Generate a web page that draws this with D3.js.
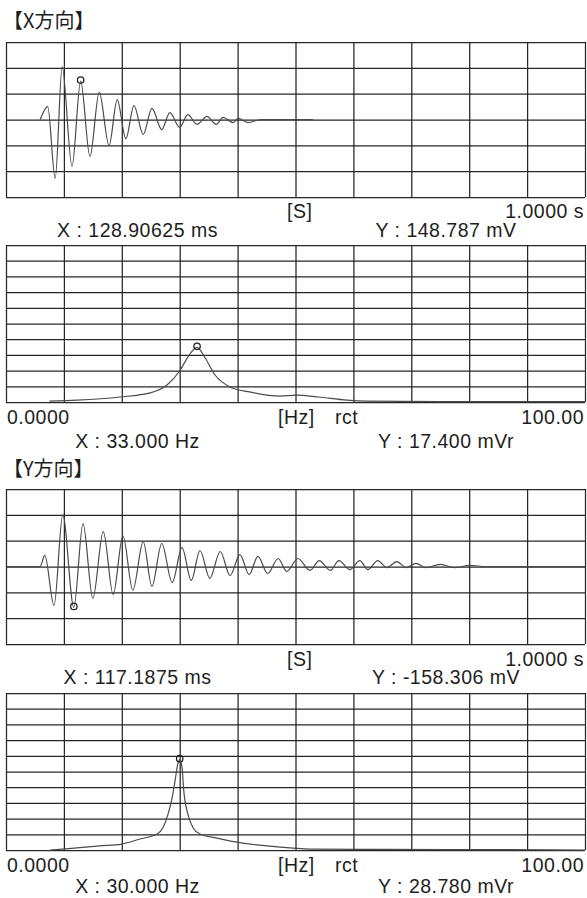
<!DOCTYPE html>
<html>
<head>
<meta charset="utf-8">
<script src="https://d3js.org/d3.v7.min.js"></script>
<style>
body { margin: 0; background: #fff; overflow: hidden; }
text { font-family: "Liberation Sans", Arial, sans-serif; fill: #1e1e1e; }
</style>
</head>
<body>
<svg id="drawing_region"></svg>
<script>
// X方向: time waveform, turning points (ms, mV)
const xWaveTime = [59, 72, 85, 97, 114, 128.9, 145, 161, 178, 192, 207, 221, 237, 252, 269, 283, 300, 314,
                   330, 347, 363, 375, 392, 401, 418, 440, 530];
const xWaveMv   = [0, 50, -228, 205, -182, 148.8, -143, 105, -101, 77, -74, 54, -58, 43, -39, 27, -31, 19,
                   -19, 12, -19, 8, -12, 4, -12, 0, 0];

// X方向: spectrum (Hz, mVr)
const xSpecHz  = [7.5, 12.3, 19.7, 24.9, 27.8, 30.1, 31.4, 33.0, 34.4, 36.1, 38.7, 42.1, 47.3, 50.3, 54, 58.9, 62.3, 75, 100];
const xSpecMvr = [0.3, 0.6, 1.6, 2.9, 5.4, 10.2, 14.3, 17.4, 14.0, 8.6, 4.8, 3.2, 1.9, 2.2, 1.6, 0.6, 0.3, 0.1, 0.1];

// Y方向: time waveform (ms, mV)
const yWaveTime = [2, 59, 67, 83, 98, 117.19, 133, 150, 168, 185, 202, 219, 237, 252, 269, 287, 304, 320,
                   335, 352, 370, 387, 404, 420, 435, 452, 470, 485, 504, 525, 541, 560, 575, 594, 611, 625,
                   642, 658, 675, 691, 708, 725, 750, 775, 801, 830, 1000];
const yWaveMv   = [0, 0, 43, -151, 201, -158.3, 166, -123, 135, -108, 119, -92, 96, -77, 89, -62, 73, -54,
                   62, -46, 58, -35, 46, -31, 39, -27, 31, -19, 31, -15, 23, -15, 23, -12, 23, -12,
                   23, -4, 19, -4, 12, -4, 8, -4, 4, 0, 0];

// Y方向: spectrum (Hz, mVr)
const ySpecHz  = [7.6, 9.8, 16.2, 20.0, 23.1, 26.1, 27.1, 28.0, 28.7, 29.2, 29.7, 30.0, 30.4, 30.7, 31.4, 32.3,
                  33.5, 36.4, 40.9, 45.1, 49.6, 52.5, 64.6, 85.3, 100];
const ySpecMvr = [0, 0.3, 1.3, 1.9, 3.5, 5.1, 7.1, 11.5, 16.7, 22.1, 27.6, 28.78, 26.3, 18.9, 11.5, 7.1,
                  5.1, 3.8, 2.2, 1.3, 0.6, 0.3, 0.2, 0.1, 0];

// cursor positions [x, y]
const xWaveCursor = [128.90625, 148.787];
const xSpecCursor = [33.0, 17.4];
const yWaveCursor = [117.1875, -158.306];
const ySpecCursor = [30.0, 28.78];

// grid divisions
const waveGridT   = [0, 100, 200, 300, 400, 500, 600, 700, 800, 900, 1000];
const waveGridMv  = [-300, -200, -100, 0, 100, 200, 300];
const specGridHz  = [0, 10, 20, 30, 40, 50, 60, 70, 80, 90, 100];
const specGridMvr = [0, 5, 10, 15, 20, 25, 30, 35, 40, 45, 50];

// texts
const titles     = ["【X方向】", "【Y方向】"];
const waveLabels = ["", "[S]", "", "1.0000 s"];
const specLabels = ["0.0000", "[Hz]", "rct", "100.00"];
const cursorText = [
    ["X : 128.90625 ms", "Y : 148.787 mV"],
    ["X : 33.000 Hz", "Y : 17.400 mVr"],
    ["X : 117.1875 ms", "Y : -158.306 mV"],
    ["X : 30.000 Hz", "Y : 28.780 mVr"]
];

const svg = d3.select('#drawing_region')
    .attr('width', 587)
    .attr('height', 898);

class Panel {
    constructor( config, xs, ys, cursor ) {
        this.config = config;
        this.data = xs.map( (x, i) => ({ x: x, y: ys[i] }) );
        this.cursor = cursor;
        this.init();
    }
    init() {
        let self = this;
        let c = self.config;
        self.chart = svg.append('g')
            .attr('transform', `translate(${c.left}, ${c.top})`);
        self.xscale = d3.scaleLinear()
            .domain(c.xDomain)
            .range([0, c.width]);
        self.yscale = d3.scaleLinear()
            .domain(c.yDomain)
            .range([c.height, 0]);

        // grid through axes
        self.chart.append('g')
            .attr('class', 'grid')
            .attr('transform', `translate(0, ${c.height})`)
            .call( d3.axisBottom( self.xscale ).tickValues(c.xTicks).tickSize(-c.height).tickFormat('').tickSizeOuter(0) );
        self.chart.append('g')
            .attr('class', 'grid')
            .call( d3.axisLeft( self.yscale ).tickValues(c.yTicks).tickSize(-c.width).tickFormat('').tickSizeOuter(0) );
        self.chart.selectAll('.grid .domain').remove();
        self.chart.selectAll('.grid line')
            .attr('stroke', '#262626')
            .attr('stroke-width', 1.25);
    }
    render() {
        let self = this;
        const line = d3.line()
            .x( d => self.xscale(d.x) )
            .y( d => self.yscale(d.y) )
            .curve( d3.curveMonotoneX );
        self.chart.append('path')
            .datum(self.data)
            .attr('d', line)
            .attr('fill', 'none')
            .attr('stroke', '#4a4a4a')
            .attr('stroke-width', 1.2);
        self.chart.append('circle')
            .attr('cx', self.xscale(self.cursor[0]))
            .attr('cy', self.yscale(self.cursor[1]) - 1)
            .attr('r', 3.2)
            .attr('fill', 'none')
            .attr('stroke', '#222')
            .attr('stroke-width', 1.3);
    }
    labels( bottomTexts, cursorTexts, unitOffset, cursorOffset ) {
        let self = this;
        let c = self.config;
        const base = c.top + c.height;
        const t = svg.append('g').style('font-size', '19.5px').style('letter-spacing', '0.5px');
        t.append('text').attr('x', 7).attr('y', base + unitOffset).text(bottomTexts[0]);
        t.append('text').attr('x', c.unitX).attr('y', base + unitOffset).text(bottomTexts[1]);
        t.append('text').attr('x', 335).attr('y', base + unitOffset).text(bottomTexts[2]);
        t.append('text').attr('x', 584).attr('y', base + unitOffset).attr('text-anchor', 'end').text(bottomTexts[3]);
        t.append('text').attr('x', 137.5).attr('y', base + cursorOffset).attr('text-anchor', 'middle').text(cursorTexts[0]);
        t.append('text').attr('x', 446).attr('y', base + cursorOffset).attr('text-anchor', 'middle').text(cursorTexts[1]);
    }
}

const waveConf = top => ({ left: 6, top: top, width: 579, height: 155,
    xDomain: [0, 1000], yDomain: [-300, 300], xTicks: waveGridT, yTicks: waveGridMv, unitX: 287 });
const specConf = top => ({ left: 6, top: top, width: 579, height: 157,
    xDomain: [0, 100], yDomain: [0, 50], xTicks: specGridHz, yTicks: specGridMvr, unitX: 278 });

svg.append('text').attr('x', 3).attr('y', 28).style('font-size', '20px')
    .style('font-family', '"Noto Sans CJK JP", "Liberation Sans", sans-serif').text(titles[0]);
svg.append('text').attr('x', 3).attr('y', 476).style('font-size', '20px')
    .style('font-family', '"Noto Sans CJK JP", "Liberation Sans", sans-serif').text(titles[1]);

const p1 = new Panel( waveConf(42), xWaveTime, xWaveMv, xWaveCursor );
p1.render();
p1.labels( waveLabels, cursorText[0], 21, 40 );

const p2 = new Panel( specConf(245), xSpecHz, xSpecMvr, xSpecCursor );
p2.render();
p2.labels( specLabels, cursorText[1], 22, 46 );

const p3 = new Panel( waveConf(489), yWaveTime, yWaveMv, yWaveCursor );
p3.render();
p3.labels( waveLabels, cursorText[2], 22, 40 );

const p4 = new Panel( specConf(693), ySpecHz, ySpecMvr, ySpecCursor );
p4.render();
p4.labels( specLabels, cursorText[3], 22, 43 );
</script>
</body>
</html>
